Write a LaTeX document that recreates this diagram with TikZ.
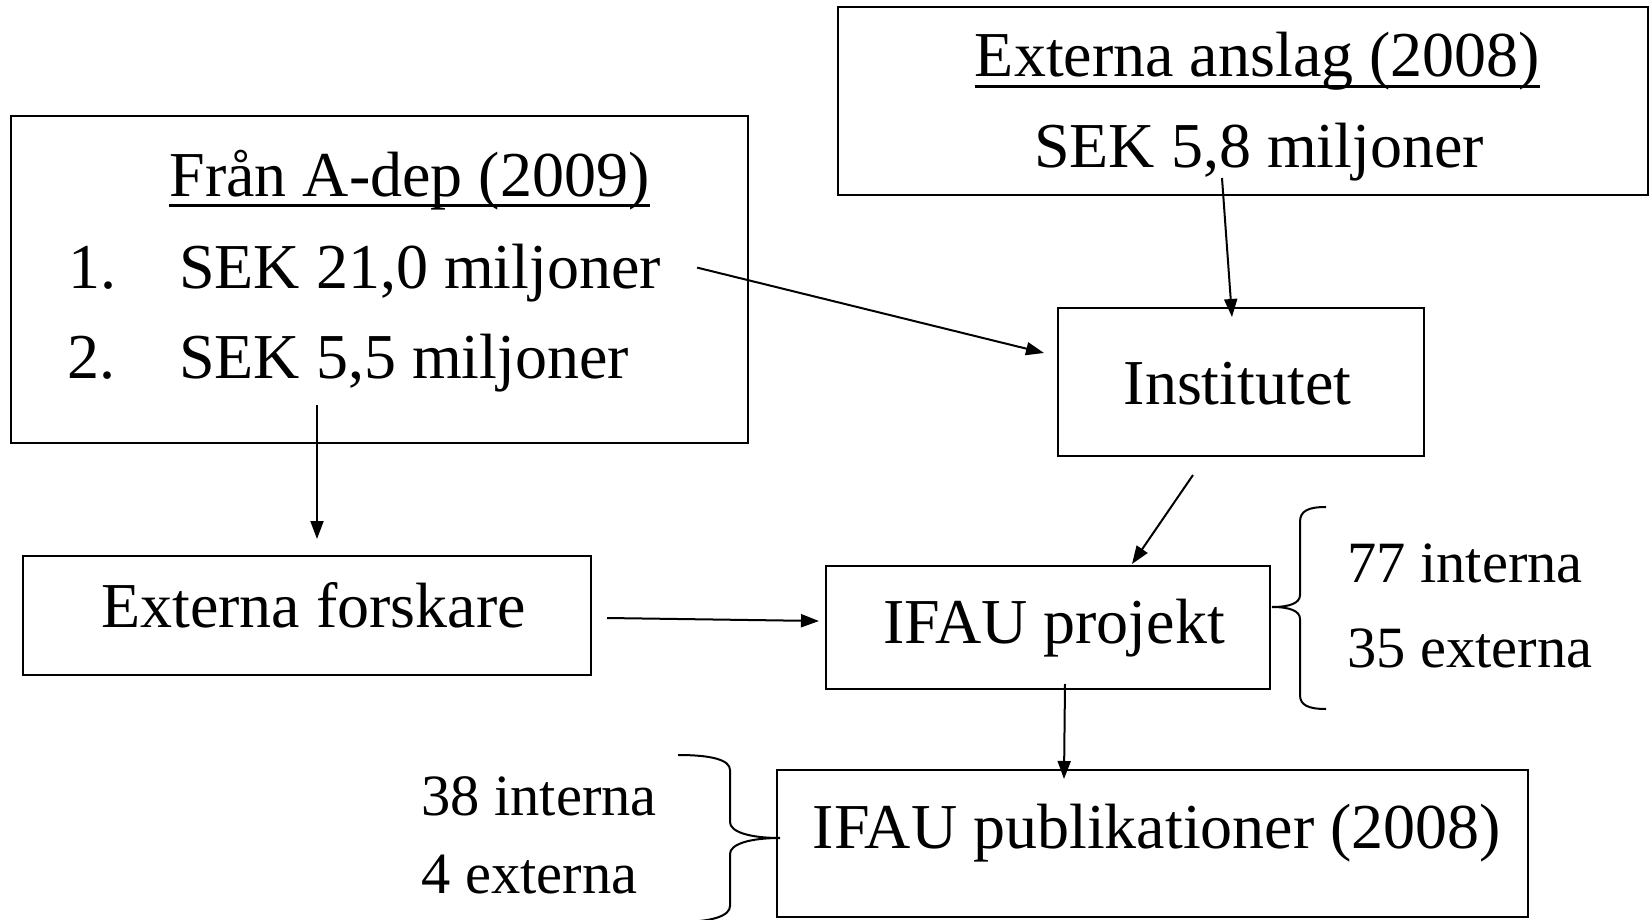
\documentclass[tikz,border=0pt]{standalone}
\usepackage{fontspec}
\setmainfont{Liberation Serif}
\usetikzlibrary{arrows.meta}

\begin{document}
\begin{tikzpicture}[x=1pt,y=-1pt,
    font=\fontsize{64}{70}\selectfont,
    box/.style={draw, line width=2pt, inner sep=0pt},
    lbl/.style={inner sep=0pt, anchor=base},
    lblw/.style={inner sep=0pt, anchor=base west},
    cnt/.style={inner sep=0pt, anchor=base west, font=\fontsize{58.5}{65}\selectfont},
    arr/.style={-{Triangle[length=18pt,width=13pt]}, line width=2pt},
    uline/.style={line width=3pt},
    brace/.style={line width=2pt}]
    \useasboundingbox (0,0) rectangle (1650,920);
    % boxes
    \node[box, minimum width=737.5pt, minimum height=327pt] (adep) at (379.25,279.5) {};
    \node[box, minimum width=810pt, minimum height=188pt] (anslag) at (1243,101) {};
    \node[box, minimum width=366.5pt, minimum height=148pt] (inst) at (1240.75,382) {};
    \node[box, minimum width=568pt, minimum height=119pt] (forsk) at (307,615.5) {};
    \node[box, minimum width=444pt, minimum height=123pt] (proj) at (1048,627.5) {};
    \node[box, minimum width=751pt, minimum height=147pt] (publ) at (1152.5,843.5) {};
    % texts
    \node[lbl] (adepT) at (409.5,197) {Från A-dep (2009)};
    \node[lblw] (n1) at (68,289) {1.};
    \node[lblw] (sek21) at (179,289) {SEK 21,0 miljoner};
    \node[lblw] (n2) at (67,378) {2.};
    \node[lblw] (sek55) at (179,378) {SEK 5,5 miljoner};
    \node[lbl] (anslagT) at (1257.5,77) {Externa anslag (2008)};
    \node[lbl] (sek58) at (1259,168) {SEK 5,8 miljoner};
    \node[lbl] (instT) at (1237.5,404) {Institutet};
    \node[lbl] (forskT) at (313.5,627) {Externa forskare};
    \node[lbl] (projT) at (1054,643) {IFAU projekt};
    \node[lbl] (publT) at (1157,848) {IFAU publikationer (2008)};
    \node[cnt] (int77) at (1347,582) {77 interna};
    \node[cnt] (ext35) at (1347,667) {35 externa};
    \node[cnt] (int38) at (421,815) {38 interna};
    \node[cnt] (ext4) at (421,893) {4 externa};
    \draw[uline] ([yshift=-9pt]adepT.base west) -- ([yshift=-9pt]adepT.base east);
    \draw[uline] ([yshift=-10pt]anslagT.base west) -- ([yshift=-10pt]anslagT.base east);
    % braces
    \draw[brace] (1326,507) .. controls (1308,507) and (1300,511) .. (1300,522) -- (1300,595)
        .. controls (1300,603) and (1290,607) .. (1272,607)
        .. controls (1290,607) and (1300,611) .. (1300,619) -- (1300,695)
        .. controls (1300,705) and (1308,709) .. (1326,709);
    \draw[brace] (678,755) .. controls (712,755) and (730,760) .. (730,770) -- (730,822)
        .. controls (730,832) and (750,838) .. (780,838)
        .. controls (750,838) and (730,844) .. (730,854) -- (730,906)
        .. controls (730,916) and (712,922) .. (678,922);
    % arrows
    \draw[arr] ([xshift=36pt,yshift=6pt]sek21.east) -- ([xshift=-12.5pt,yshift=29pt]inst.west);
    \draw[arr] ([xshift=-37pt,yshift=-10pt]sek58.base) -- ([xshift=-8.75pt,yshift=-10pt]inst.north);
    \draw[arr] ([xshift=138pt,yshift=-27pt]sek55.base west) -- ([xshift=10pt,yshift=16pt]forsk.north);
    \draw[arr] ([xshift=15pt,yshift=-2.5pt]forsk.east) -- ([xshift=-6pt,yshift=6.5pt]proj.west);
    \draw[arr] ([xshift=-47.75pt,yshift=-18pt]inst.south) -- ([xshift=84pt,yshift=1pt]proj.north);
    \draw[arr] ([xshift=17pt,yshift=6pt]proj.south) -- ([xshift=-88.5pt,yshift=-10pt]publ.north);
\end{tikzpicture}
\end{document}
